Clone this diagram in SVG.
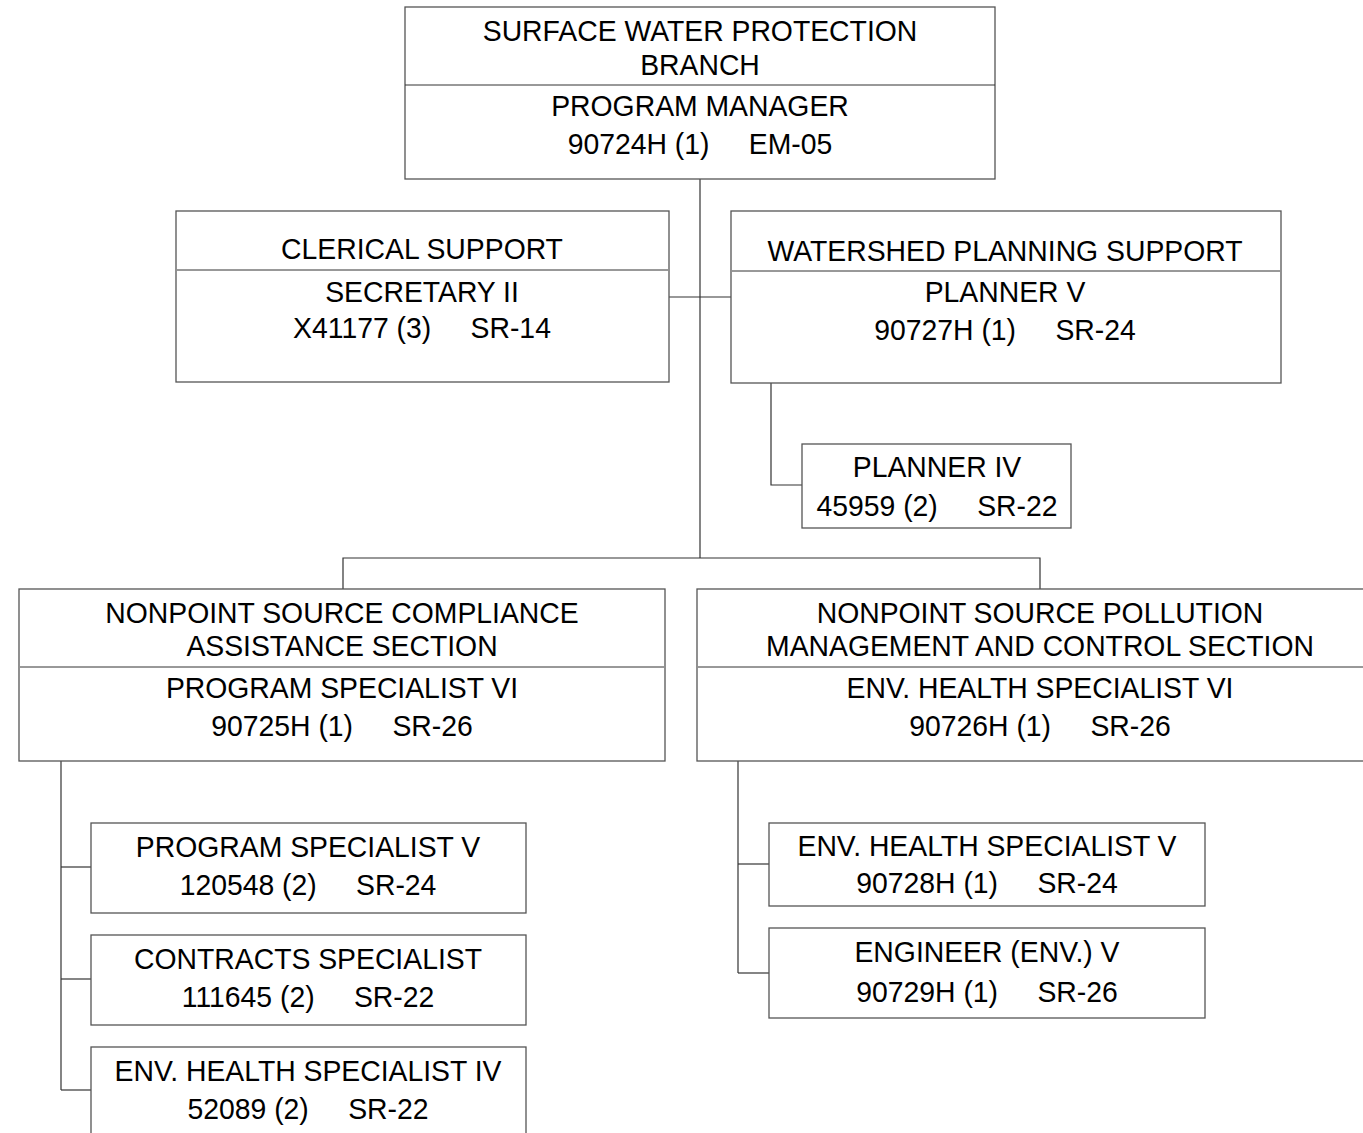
<svg xmlns="http://www.w3.org/2000/svg" width="1363" height="1133" viewBox="0 0 1363 1133" xml:space="preserve">
<style>
text{font-family:"Liberation Sans",Arial,sans-serif;font-size:30px;fill:#000;text-anchor:middle;white-space:pre}
.box{fill:#fff;stroke:#555;stroke-width:1.3}
.div{stroke:#333;stroke-width:1}
.con line,.con polyline{stroke:#333;stroke-width:1.2;fill:none}
</style>
<rect width="1363" height="1133" fill="#fff"/>
<g class="con" id="connectors">
<line x1="700" y1="179" x2="700" y2="558"/>
<line x1="669" y1="297" x2="731" y2="297"/>
<polyline points="771,383 771,485 802,485"/>
<polyline points="343,589 343,558 1040,558 1040,589"/>
<line x1="61" y1="761" x2="61" y2="1090"/>
<line x1="61" y1="867" x2="91" y2="867"/>
<line x1="61" y1="979" x2="91" y2="979"/>
<line x1="61" y1="1090" x2="91" y2="1090"/>
<line x1="738" y1="761" x2="738" y2="973"/>
<line x1="738" y1="864" x2="769" y2="864"/>
<line x1="738" y1="973" x2="769" y2="973"/>
</g>
<g id="branch">
<rect class="box" x="405" y="7" width="590" height="172"/>
<line class="div" x1="405" y1="85" x2="995" y2="85"/>
<text transform="translate(700 41) scale(.945 1)">SURFACE WATER PROTECTION</text>
<text transform="translate(700 75) scale(.945 1)">BRANCH</text>
<text transform="translate(700 116) scale(.945 1)">PROGRAM MANAGER</text>
<text transform="translate(700 154) scale(.945 1)">90724H (1)     EM-05</text>
</g>
<g id="clerical">
<rect class="box" x="176" y="211" width="493" height="171"/>
<line class="div" x1="177" y1="270" x2="668" y2="270"/>
<text transform="translate(422 259) scale(.945 1)">CLERICAL SUPPORT</text>
<text transform="translate(422 302) scale(.945 1)">SECRETARY II</text>
<text transform="translate(422 338) scale(.945 1)">X41177 (3)     SR-14</text>
</g>
<g id="watershed">
<rect class="box" x="731" y="211" width="550" height="172"/>
<line class="div" x1="732" y1="271" x2="1280" y2="271"/>
<text transform="translate(1005 261) scale(.945 1)">WATERSHED PLANNING SUPPORT</text>
<text transform="translate(1005 302) scale(.945 1)">PLANNER V</text>
<text transform="translate(1005 340) scale(.945 1)">90727H (1)     SR-24</text>
</g>
<g id="planner4">
<rect class="box" x="802" y="444" width="269" height="84"/>
<text transform="translate(937 477) scale(.945 1)">PLANNER IV</text>
<text transform="translate(937 516) scale(.945 1)">45959 (2)     SR-22</text>
</g>
<g id="compliance">
<rect class="box" x="19" y="589" width="646" height="172"/>
<line class="div" x1="20" y1="667" x2="664" y2="667"/>
<text transform="translate(342 623) scale(.945 1)">NONPOINT SOURCE COMPLIANCE</text>
<text transform="translate(342 656) scale(.945 1)">ASSISTANCE SECTION</text>
<text transform="translate(342 698) scale(.945 1)">PROGRAM SPECIALIST VI</text>
<text transform="translate(342 736) scale(.945 1)">90725H (1)     SR-26</text>
</g>
<g id="pollution">
<rect class="box" x="697" y="589" width="686" height="172"/>
<line class="div" x1="698" y1="667" x2="1363" y2="667"/>
<text transform="translate(1040 623) scale(.945 1)">NONPOINT SOURCE POLLUTION</text>
<text transform="translate(1040 656) scale(.945 1)">MANAGEMENT AND CONTROL SECTION</text>
<text transform="translate(1040 698) scale(.945 1)">ENV. HEALTH SPECIALIST VI</text>
<text transform="translate(1040 736) scale(.945 1)">90726H (1)     SR-26</text>
</g>
<g id="progspec5">
<rect class="box" x="91" y="823" width="435" height="90"/>
<text transform="translate(308 857) scale(.945 1)">PROGRAM SPECIALIST V</text>
<text transform="translate(308 895) scale(.945 1)">120548 (2)     SR-24</text>
</g>
<g id="contracts">
<rect class="box" x="91" y="935" width="435" height="90"/>
<text transform="translate(308 969) scale(.945 1)">CONTRACTS SPECIALIST</text>
<text transform="translate(308 1007) scale(.945 1)">111645 (2)     SR-22</text>
</g>
<g id="envhealth4">
<rect class="box" x="91" y="1047" width="435" height="100"/>
<text transform="translate(308 1081) scale(.945 1)">ENV. HEALTH SPECIALIST IV</text>
<text transform="translate(308 1119) scale(.945 1)">52089 (2)     SR-22</text>
</g>
<g id="envhealth5">
<rect class="box" x="769" y="823" width="436" height="83"/>
<text transform="translate(987 856) scale(.945 1)">ENV. HEALTH SPECIALIST V</text>
<text transform="translate(987 893) scale(.945 1)">90728H (1)     SR-24</text>
</g>
<g id="engineer5">
<rect class="box" x="769" y="928" width="436" height="90"/>
<text transform="translate(987 962) scale(.945 1)">ENGINEER (ENV.) V</text>
<text transform="translate(987 1002) scale(.945 1)">90729H (1)     SR-26</text>
</g>
</svg>
